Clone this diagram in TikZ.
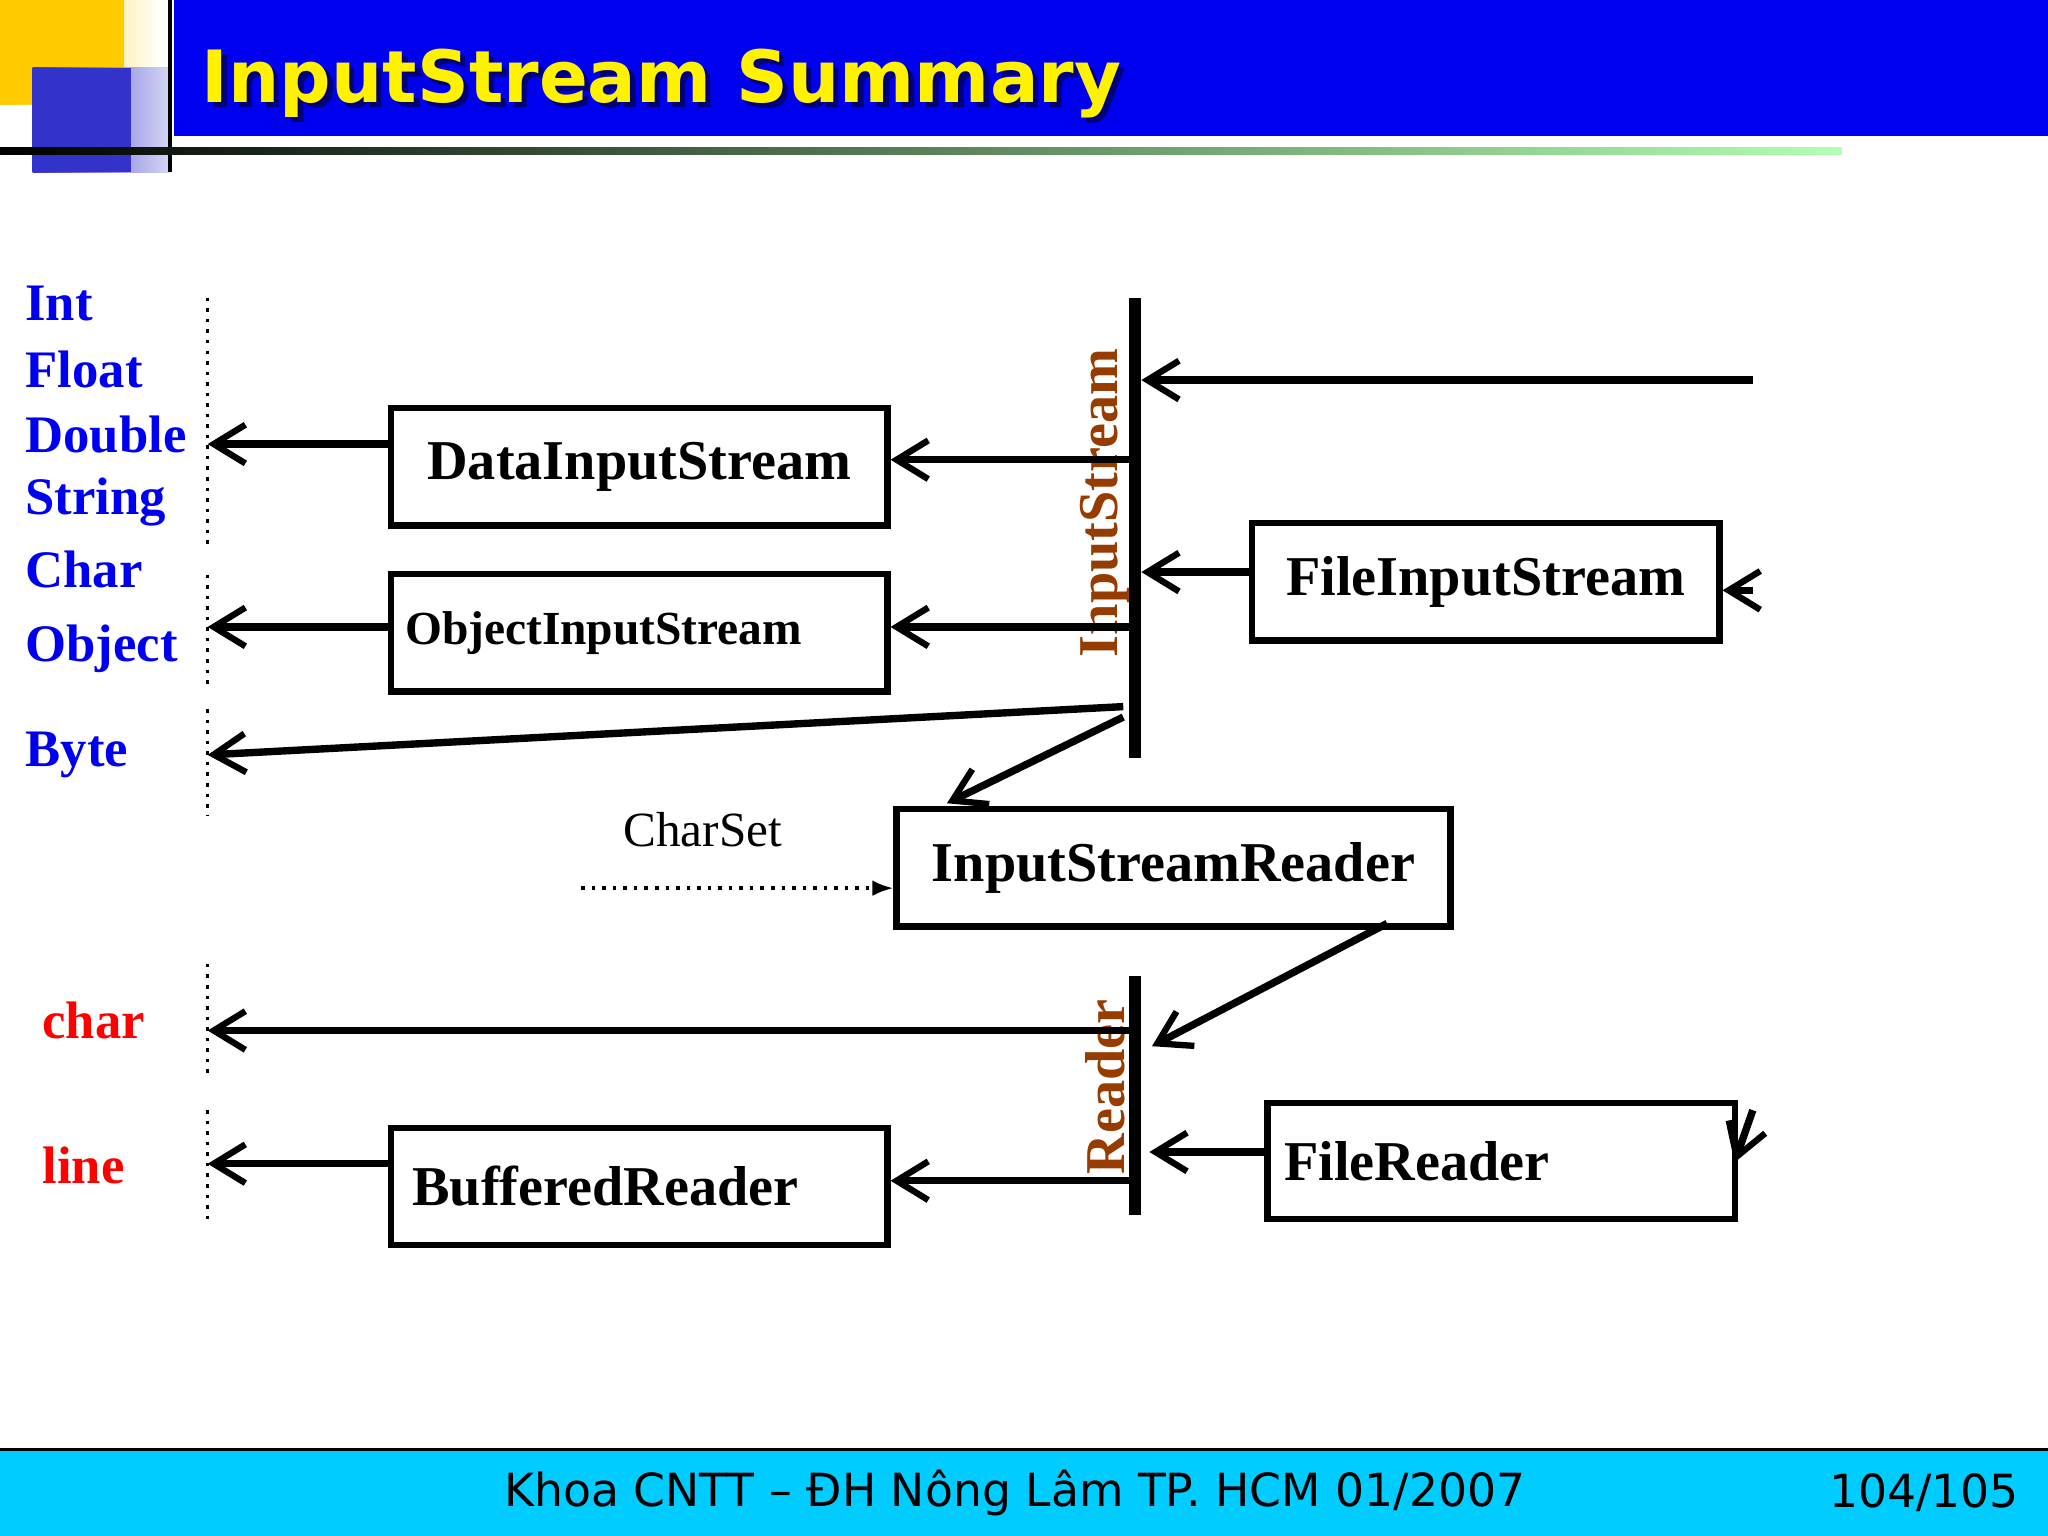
\documentclass[tikz,border=0pt]{standalone}
\usepackage{fontspec}
\setmainfont{Liberation Serif}
\newfontfamily\titlefont{DejaVu Sans}
\newfontfamily\footfont{DejaVu Sans}
\usetikzlibrary{arrows.meta}
\definecolor{titleblue}{RGB}{0,0,240}
\definecolor{sqblue}{RGB}{51,51,204}
\definecolor{sqyellow}{RGB}{255,204,0}
\definecolor{footcyan}{RGB}{0,204,255}
\definecolor{labbrown}{RGB}{150,60,0}
\tikzset{
  cls/.style={draw, line width=1.8pt, inner sep=0pt, anchor=north west, font=\bfseries\fontsize{16}{18}\selectfont},
  bar/.style={fill=black, inner sep=0pt, minimum width=3.2pt},
  flow/.style={line width=2.1pt, -{Straight Barb[length=9pt,width=11pt,line width=1.8pt]}},
  dots/.style={dotted, line width=1pt},
  tlab/.style={anchor=west, font=\bfseries\fontsize{15}{18}\selectfont, text=titleblue},
  rlab/.style={anchor=west, font=\bfseries\fontsize{15}{18}\selectfont, text=red},
}
\begin{document}
\begin{tikzpicture}[x=0.013061cm, y=-0.013061cm]
\useasboundingbox (0,0) rectangle (1568,1176);

% Kopfzeile
\shade[left color=sqyellow, right color=white] (0,0) rectangle (125,80);
\fill[sqyellow] (0,0) rectangle (95,80);
\shade[left color=sqblue, right color=sqblue!20] (25,52) rectangle (130,132);
\fill[sqblue] (25,52) rectangle (100,132);
\fill[titleblue] (133,0) rectangle (1568,104);
\draw[line width=1.2pt] (130,0) -- (130,132);
\shade[left color=black, right color=green!30!white] (0,113) rectangle (1410,118);
\node[anchor=west, font=\titlefont\bfseries\fontsize{20.5}{24}\selectfont, text=black!50!titleblue] (titleshadow) at (149,68) {InputStream Summary};
\node[anchor=west, font=\titlefont\bfseries\fontsize{20.5}{24}\selectfont, text=yellow] (title) at (145,64) {InputStream Summary};

% Fusszeile
\fill[footcyan] (0,1110) rectangle (1568,1176);
\draw[line width=0.8pt] (0,1110) -- (1568,1110);
\node[font=\footfont\fontsize{13}{15}\selectfont] (foot) at (777,1143) {Khoa CNTT – ĐH Nông Lâm TP. HCM 01/2007};
\node[font=\footfont\fontsize{13}{15}\selectfont] (page) at (1473,1143) {104/105};

% Datentypen links
\node[tlab] (tInt) at (10,232) {Int};
\node[tlab] (tFloat) at (10,283) {Float};
\node[tlab] (tDouble) at (10,333) {Double};
\node[tlab] (tString) at (10,384) {String};
\node[tlab] (tChar) at (10,436) {Char};
\node[tlab] (tObject) at (10,497) {Object};
\node[tlab] (tByte) at (10,578) {Byte};
\node[rlab] (tchar) at (23,781) {char};
\node[rlab] (tline) at (23,892) {line};

\draw[dots] (159,228) -- (159,420);
\draw[dots] (159,440) -- (159,525);
\draw[dots] (159,543) -- (159,625);
\draw[dots] (159,738) -- (159,822);
\draw[dots] (159,850) -- (159,935);

% Klassen
\node[cls, minimum width=380*0.013061cm, minimum height=90*0.013061cm] (data) at (297,310) {DataInputStream};
\node[cls, minimum width=380*0.013061cm, minimum height=90*0.013061cm, font=\bfseries\fontsize{13.5}{16}\selectfont] (object) at (297,437) {\hspace*{-1.5em}ObjectInputStream};
\node[cls, minimum width=358*0.013061cm, minimum height=90*0.013061cm] (file) at (956,398) {FileInputStream};
\node[cls, minimum width=424*0.013061cm, minimum height=90*0.013061cm] (isr) at (684,617) {InputStreamReader};
\node[cls, minimum width=358*0.013061cm, minimum height=89*0.013061cm] (freader) at (968,842) {\hspace*{-3em}FileReader};
\node[cls, minimum width=380*0.013061cm, minimum height=90*0.013061cm] (buffered) at (297,861) {\hspace*{-1.2em}BufferedReader};

% Balken
\node[bar, minimum height=352*0.013061cm] (instream) at (869,404) {};
\node[bar, minimum height=183*0.013061cm] (reader) at (869,838.5) {};
\node[rotate=90, font=\bfseries\fontsize{16}{18}\selectfont, text=labbrown] (instreamlab) at (846,385) {InputStream};
\node[rotate=90, font=\bfseries\fontsize{16}{18}\selectfont, text=labbrown] (readerlab) at (846,832) {Reader};

% freie Enden
\coordinate (src1) at (1342,291);
\coordinate (src2) at (1342,452);
\coordinate (src3) at (1342,850);
\coordinate (lDouble) at (159,340);
\coordinate (lObject) at (159,480);
\coordinate (lByte) at (159,578);
\coordinate (lchar) at (159,789);
\coordinate (lline) at (159,891);
\coordinate (csStart) at (445,680);
\node[font=\fontsize{14}{16}\selectfont] (charset) at (538,635) {CharSet};

% Pfeile
\draw[flow] (src1) -- (instream.east |- src1);
\draw[flow] (instream.west |- 0,352) -- (data.east |- 0,352);
\draw[flow] (file.west |- 0,438) -- (instream.east |- 0,438);
\draw[flow] (instream.west |- 0,480) -- (object.east |- 0,480);
\draw[flow] (data.west |- lDouble) -- (lDouble);
\draw[flow] (object.west |- lObject) -- (lObject);
\draw[flow] (860,541) -- (lByte);
\draw[flow] (860,549) -- (725,615);
\draw[dots, -{Latex[length=6pt]}] (csStart) -- (isr.west |- csStart);
\draw[flow] (1062,707) -- (882,801);
\draw[flow] (reader.west |- lchar) -- (lchar);
\draw[flow] (freader.west |- 0,882) -- (880,882);
\draw[flow] (reader.west |- 0,904) -- (buffered.east |- 0,904);
\draw[flow] (buffered.west |- lline) -- (lline);
\draw[flow] (src2) -- (file.east |- src2);
\draw[flow] (src3) -- (1328,890);
\end{tikzpicture}
\end{document}
